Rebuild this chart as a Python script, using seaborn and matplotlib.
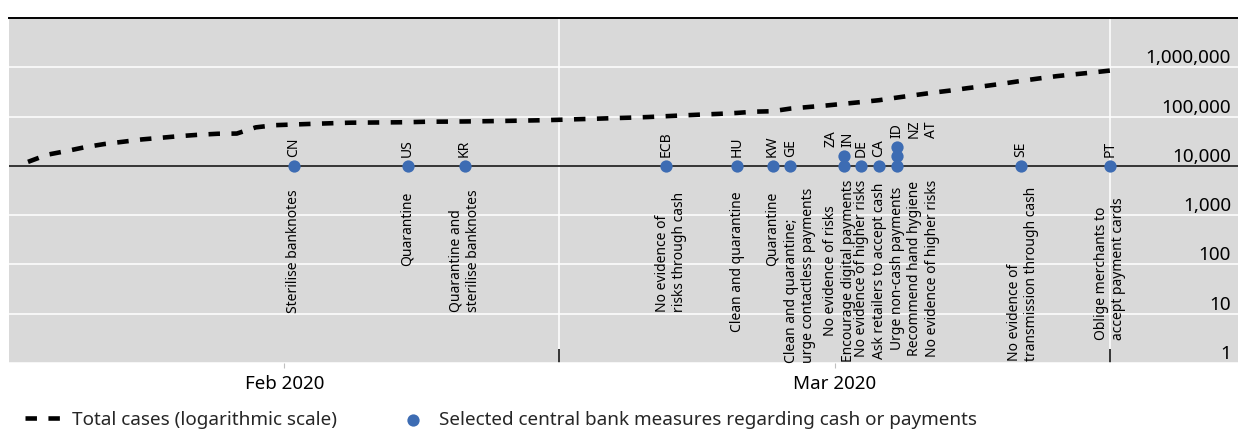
import pandas as pd
import matplotlib.pyplot as plt
import seaborn as sns

# Total cases (global), daily from 2 Feb to 1 Apr 2020
case_start = "2020-02-02"
case_end = "2020-04-01"
case_values = [
    12038, 16787, 19881, 23892, 27636, 30818, 34392, 37121, 40151, 42763,
    44803, 45222, 60370, 66887, 69032, 71226, 73260, 75138, 75641, 76199,
    76843, 78599, 78985, 79570, 80415, 81397, 82756, 84124, 86013, 88371,
    90309, 92844, 95124, 97886, 101800, 105836, 109835, 113582, 118582, 125865,
    128343, 145193, 156097, 167449, 181531, 197146, 214910, 242708, 272166, 304524,
    336953, 378235, 418045, 467653, 529591, 593291, 660706, 720117, 782365, 857487,
]

# Central bank measures
measure_codes = ["CN", "US", "KR", "ECB", "HU", "KW", "GE", "ZA", "IN", "DE",
                 "CA", "ID", "NZ", "AT", "SE", "PT"]
measure_dates = ["2020-02-16", "2020-02-22", "2020-02-25", "2020-03-07", "2020-03-11",
                 "2020-03-13", "2020-03-14", "2020-03-17", "2020-03-17", "2020-03-18",
                 "2020-03-19", "2020-03-20", "2020-03-20", "2020-03-20", "2020-03-27",
                 "2020-04-01"]
measure_texts = [
    "Sterilise banknotes",
    "Quarantine",
    "Quarantine and\nsterilise banknotes",
    "No evidence of\nrisks through cash",
    "Clean and quarantine",
    "Quarantine",
    "Clean and quarantine;\nurge contactless payments",
    "No evidence of risks",
    "Encourage digital payments",
    "No evidence of higher risks",
    "Ask retailers to accept cash",
    "Urge non-cash payments",
    "Recommend hand hygiene",
    "No evidence of higher risks",
    "No evidence of\ntransmission through cash",
    "Oblige merchants to\naccept payment cards",
]

y_ticks = [1, 10, 100, 1000, 10000, 100000, 1000000]
month_labels = ["Feb 2020", "Mar 2020"]

# label placement (pixels): dx, distance of text top below the baseline
desc_layout = {"CN": (0, 24), "US": (0, 26), "KR": (0, 24), "ECB": (5, 26), "HU": (0, 26),
               "KW": (0, 26), "GE": (10, 22), "ZA": (-4, 14), "DE": (0, 14), "CA": (0, 17),
               "ID": (18, 14), "SE": (2, 21), "PT": (0, 32)}
code_dx = {"ZA": -4, "ID": 17}

BLUE = "#3D6CB3"
GREY = "#D9D9D9"


def month_pos(d):
    # each month gets the same width on the axis
    return (d.month - 2) + (d.day - 1) / d.days_in_month


sns.set_theme(style="white")
plt.rcParams["font.family"] = ["Noto Sans", "DejaVu Sans"]

fig = plt.figure(figsize=(12.38, 4.30), dpi=100)
ax = fig.add_axes([9 / 1238, 67 / 430, 1 - 9 / 1238, 345 / 430])
ax.set_facecolor(GREY)

case_x = [month_pos(d) for d in pd.date_range(case_start, case_end, freq="D")]
sns.lineplot(x=case_x, y=case_values, ax=ax, color="black", linewidth=3.3,
             linestyle=(0, (2.5, 2.5)), label="Total cases (logarithmic scale)", zorder=3)

df = pd.DataFrame({"code": measure_codes, "date": pd.to_datetime(measure_dates),
                   "text": measure_texts})
df["x"] = df["date"].map(month_pos)
df["level"] = df.groupby("date").cumcount()
df["y"] = 10000 * 1.55 ** df["level"]

ax.axhline(10000, color="black", lw=1.1, zorder=2)
sns.scatterplot(data=df, x="x", y="y", ax=ax, color=BLUE, s=78, linewidth=0, zorder=4,
                label="Selected central bank measures regarding cash or payments")

for _, g in df.groupby("date"):
    first = g["code"].iloc[0]
    x = g["x"].iloc[0]
    multi = "center" if len(g) > 1 else "left"
    dx, dy = desc_layout[first]
    ax.annotate("\n".join(g["text"]), xy=(x, 10000), xytext=(dx, -dy),
                textcoords="offset pixels", rotation=90, ha="center", va="top",
                multialignment=multi, fontsize=10, color="black", zorder=5)
    ax.annotate("\n".join(g["code"]), xy=(x, g["y"].max()), xytext=(code_dx.get(first, 0), 9),
                textcoords="offset pixels", rotation=90, ha="center", va="bottom",
                multialignment="left", fontsize=10, color="black", zorder=5)

ax.set_yscale("log")
ax.set_ylim(1, 1e7)
ax.set_xlim(0, (1238 - 9.5) / 550.25)

ax.set_yticks(y_ticks + [1e7], labels=[f"{v:,}" for v in y_ticks] + [""])
ax.yaxis.set_minor_locator(plt.NullLocator())
ax.yaxis.tick_right()
ax.tick_params(axis="y", which="both", length=0, pad=-5, labelsize=13.6, labelcolor="black")
for lab in ax.get_yticklabels():
    lab.set_horizontalalignment("right")
    lab.set_verticalalignment("bottom")

ax.set_xticks([1, 2], labels=["", ""])
ax.set_xticks([0.5, 1.5], labels=month_labels, minor=True)
ax.tick_params(axis="x", which="major", bottom=True, direction="in", length=10,
               width=1.1, color="black")
ax.tick_params(axis="x", which="minor", bottom=True, direction="out", length=3.5,
               width=0.8, color="#BFBFBF", pad=5, labelsize=13.5, labelcolor="black")

ax.grid(axis="both", which="major", color="white", lw=1.1)
ax.set_axisbelow(True)
ax.set_xlabel("")
ax.set_ylabel("")

for side in ["left", "right", "bottom"]:
    ax.spines[side].set_visible(False)
ax.spines["top"].set_visible(True)
ax.spines["top"].set_color("black")
ax.spines["top"].set_linewidth(1.4)

ax.legend(loc="center left", bbox_to_anchor=(17.5 / 1238, 1 - 420 / 430),
          bbox_transform=fig.transFigure, ncol=2, frameon=False, fontsize=13.6,
          borderaxespad=0, handlelength=2.2, handletextpad=0.3, columnspacing=2.9)

fig.savefig("out.png", dpi=100, facecolor="white")
